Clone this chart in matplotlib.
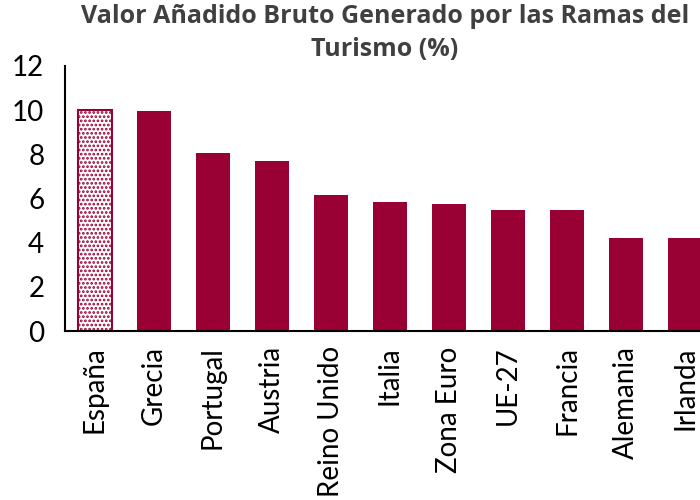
import matplotlib.pyplot as plt
import numpy as np

# --- datos ---
paises = ["España", "Grecia", "Portugal", "Austria", "Reino Unido", "Italia",
          "Zona Euro", "UE-27", "Francia", "Alemania", "Irlanda"]
vab = [10.03, 9.94, 8.07, 7.70, 6.15, 5.86, 5.73, 5.50, 5.47, 4.21, 4.19]

color = "#990033"
plt.rcParams['font.family'] = ['Lato', 'DejaVu Sans']
plt.rcParams['hatch.linewidth'] = 1.3

fig = plt.figure(figsize=(7, 5), dpi=100)
ax = fig.add_axes([0.093, 0.338, 0.907, 0.53])

x = np.arange(len(paises))
bars = ax.bar(x, vab, width=0.58, color=color)
# España resaltada con trama
bars[0].set_facecolor("white")
bars[0].set_edgecolor(color)
bars[0].set_hatch("....")
bars[0].set_linewidth(1.5)

ax.set_xlim(-0.5, 10.25)
ax.set_ylim(0, 12)
ax.set_yticks(range(0, 13, 2))
ax.set_xticks(x)
ax.set_xticklabels(paises, rotation=90)
ax.tick_params(axis='both', length=0, labelsize=20, colors="black")
ax.tick_params(axis='y', pad=15)
ax.tick_params(axis='x', pad=11)
for s in ["top", "right"]:
    ax.spines[s].set_visible(False)
ax.spines["left"].set_linewidth(1.5)
ax.spines["bottom"].set_linewidth(1.5)

fig.text(0.55, 0.992, "Valor Añadido Bruto Generado por las Ramas del\nTurismo (%)",
         ha="center", va="top", fontsize=18, fontweight="bold", color="#404040",
         linespacing=1.42, family=["Open Sans", "DejaVu Sans"])

fig.savefig("out.png", dpi=100)
